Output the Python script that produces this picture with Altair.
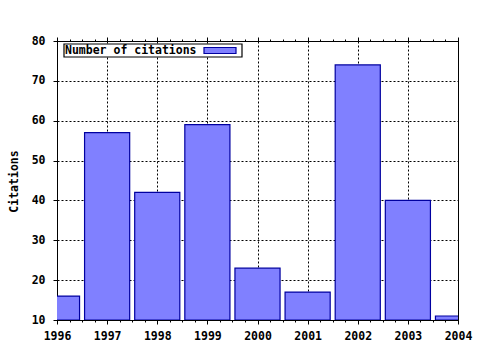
import altair as alt
import pandas as pd

years = [1996, 1997, 1998, 1999, 2000, 2001, 2002, 2003, 2004]
citations = [16, 57, 42, 59, 23, 17, 74, 40, 11]
y_ticks = [10, 20, 30, 40, 50, 60, 70, 80]
x_minor_ticks = [1996 + i * 0.25 for i in range(33)]
legend_label = "Number of citations"
y_title = "Citations"

FONT = "DejaVu Sans Mono"
FS = 11.5
FILL = "#8080ff"
EDGE = "#0000a0"

df = pd.DataFrame({"year": years, "citations": citations})

xscale = alt.Scale(domain=[1996, 2004], nice=False, zero=False)
yscale = alt.Scale(domain=[10, 80], nice=False, zero=False)

major_test = "abs(datum.value - round(datum.value)) < 0.001"

x_bottom = alt.Axis(
    values=x_minor_ticks, orient="bottom", title=None,
    labelExpr=f"{major_test} ? format(datum.value, 'd') : ''",
    labelOverlap=False, labelFlush=False,
    labelFont=FONT, labelFontSize=FS, labelFontWeight="bold", labelColor="black",
    labelPadding=6,
    tickSize={"condition": {"test": major_test, "value": 4}, "value": 2},
    tickColor="black", domainColor="black",
    grid=True, gridColor="black", gridDash=[2, 2],
    gridOpacity={"condition": {"test": major_test, "value": 1}, "value": 0},
)
x_top = alt.Axis(
    values=x_minor_ticks, orient="top", title=None, labels=False,
    tickSize={"condition": {"test": major_test, "value": 4}, "value": 2},
    tickColor="black", domainColor="black", grid=False,
)
y_left = alt.Axis(
    values=y_ticks, orient="left", title=y_title,
    titleFont=FONT, titleFontSize=FS, titleFontWeight="bold", titleColor="black",
    titleX=-43, titleY=140, titleAngle=-90, titleAlign="center", titleBaseline="middle",
    labelFont=FONT, labelFontSize=FS, labelFontWeight="bold", labelColor="black",
    labelPadding=8, tickSize=4, tickColor="black", domainColor="black",
    grid=True, gridColor="black", gridDash=[2, 2],
)

base = alt.Chart(df).transform_calculate(
    x0="datum.year - 0.45", x1="datum.year + 0.45", base="10"
)

bars = base.mark_rect(fill=FILL, stroke=EDGE, strokeWidth=1.2, clip=True).encode(
    x=alt.X("x0:Q", scale=xscale, axis=x_bottom),
    x2="x1:Q",
    y=alt.Y("citations:Q", scale=yscale, axis=y_left),
    y2="base:Q",
)

top_axis = base.mark_rect(opacity=0).encode(
    x=alt.X("x0:Q", scale=xscale, axis=x_top),
    y=alt.Y("citations:Q", scale=yscale, axis=y_left),
)

legend_df = pd.DataFrame({"label": [legend_label]})
leg_box = alt.Chart(legend_df).mark_rect(fill="white", stroke="black", strokeWidth=1.2).encode(
    x=alt.value(7), x2=alt.value(185), y=alt.value(3), y2=alt.value(16)
)
leg_text = alt.Chart(legend_df).mark_text(
    font=FONT, fontSize=FS, fontWeight="bold", align="left", baseline="middle", color="black"
).encode(x=alt.value(8), y=alt.value(10), text="label:N")
leg_swatch = alt.Chart(legend_df).mark_rect(fill=FILL, stroke=EDGE, strokeWidth=1.2).encode(
    x=alt.value(147), x2=alt.value(179), y=alt.value(6.5), y2=alt.value(12.5)
)

chart = alt.layer(bars, top_axis, leg_box, leg_text, leg_swatch).resolve_axis(
    x="independent"
).properties(
    width=401, height=279,
    autosize=alt.AutoSizeParams(type="none"),
    padding={"left": 57, "top": 41, "right": 22, "bottom": 30},
    background="white",
).configure_view(stroke="black", strokeWidth=1)

chart.save("out.html", embed_options={"renderer": "svg", "actions": False})
